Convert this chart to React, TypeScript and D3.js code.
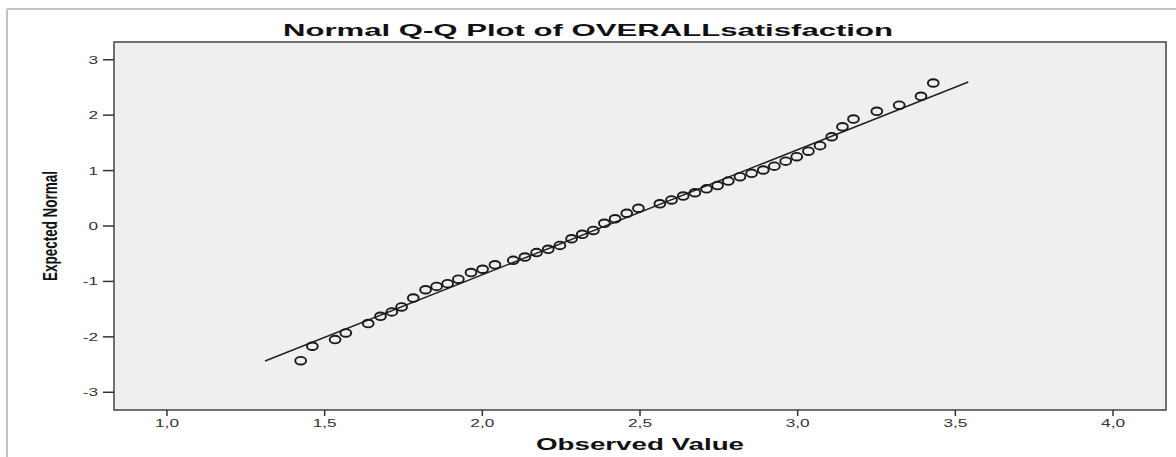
import React from "react";
import * as d3 from "d3";

const observed = [1.424, 1.461, 1.533, 1.567, 1.638, 1.677, 1.713, 1.744, 1.781, 1.82, 1.855, 1.89, 1.924, 1.964, 2.001, 2.04, 2.098, 2.135, 2.172, 2.209, 2.246, 2.283, 2.317, 2.352, 2.387, 2.421, 2.458, 2.495, 2.563, 2.6, 2.637, 2.674, 2.711, 2.746, 2.78, 2.817, 2.854, 2.891, 2.926, 2.962, 2.997, 3.034, 3.071, 3.108, 3.142, 3.177, 3.251, 3.322, 3.391, 3.43];
const expected = [-2.43, -2.17, -2.05, -1.93, -1.76, -1.63, -1.55, -1.46, -1.3, -1.15, -1.09, -1.04, -0.96, -0.84, -0.78, -0.7, -0.62, -0.56, -0.48, -0.42, -0.35, -0.23, -0.15, -0.08, 0.05, 0.13, 0.23, 0.32, 0.4, 0.47, 0.54, 0.6, 0.67, 0.73, 0.81, 0.89, 0.95, 1.01, 1.08, 1.17, 1.25, 1.35, 1.45, 1.61, 1.79, 1.93, 2.07, 2.18, 2.34, 2.58];
const lineObserved = [1.311, 3.541];
const lineMean = 2.39;
const lineSd = 0.443;
const xTicks = [1.0, 1.5, 2.0, 2.5, 3.0, 3.5, 4.0];
const yTicks = [-3, -2, -1, 0, 1, 2, 3];

const W = 1176;
const H = 457;
const left = 114, right = 1166, top = 42, bottom = 410;
const FONT = "'Liberation Sans', Arial, sans-serif";

export default function App() {
  const x = d3.scaleLinear().domain([0.832, 4.168]).range([left, right]);
  const y = d3.scaleLinear().domain([-3.32, 3.32]).range([bottom, top]);
  const fmt = (v: number) => v.toFixed(1).replace(".", ",");
  const line = d3
    .line<number>()
    .x((d) => x(d))
    .y((d) => y((d - lineMean) / lineSd));
  const pts = observed.map((o, i) => ({ o, e: expected[i] }));
  return (
    <svg width={W} height={H} style={{ position: "absolute", left: 0, top: 0, background: "#fff" }}>
      <defs>
        <pattern id="dots" width="8" height="8" patternUnits="userSpaceOnUse">
          <rect width="8" height="8" fill="#efefef" />
          <rect x="3" y="3" width="1" height="1" fill="#fafafa" />
        </pattern>
      </defs>
      <line x1={7} y1={9} x2={W} y2={9} stroke="#c4c4c4" strokeWidth={2} />
      <line x1={7} y1={9} x2={7} y2={H} stroke="#c4c4c4" strokeWidth={2} />
      <text
        x={588}
        y={36}
        textAnchor="middle"
        fontFamily={FONT}
        fontWeight="bold"
        fontSize={17}
        textLength={610}
        lengthAdjust="spacingAndGlyphs"
        fill="#111"
      >
        Normal Q-Q Plot of OVERALLsatisfaction
      </text>
      <rect x={left} y={top} width={right - left} height={bottom - top} fill="url(#dots)" stroke="#444" strokeWidth={1.5} />
      {yTicks.map((t) => (
        <g key={"y" + t}>
          <line x1={left - 11} x2={left} y1={y(t)} y2={y(t)} stroke="#333" strokeWidth={1.5} />
          <text
            transform={`translate(${left - 16},${y(t) + 4}) scale(1.5,1)`}
            textAnchor="end"
            fontFamily={FONT}
            fontSize={11.5}
            fill="#333"
          >
            {String(t)}
          </text>
        </g>
      ))}
      {xTicks.map((t) => (
        <g key={"x" + t}>
          <line x1={x(t)} x2={x(t)} y1={bottom} y2={bottom + 6} stroke="#333" strokeWidth={1.5} />
          <text
            transform={`translate(${x(t)},${bottom + 17}) scale(1.5,1)`}
            textAnchor="middle"
            fontFamily={FONT}
            fontSize={11.5}
            fill="#333"
          >
            {fmt(t)}
          </text>
        </g>
      ))}
      <text
        x={(left + right) / 2}
        y={450}
        textAnchor="middle"
        fontFamily={FONT}
        fontWeight="bold"
        fontSize={17}
        textLength={208}
        lengthAdjust="spacingAndGlyphs"
        fill="#111"
      >
        Observed Value
      </text>
      <text
        transform={`translate(57,${(top + bottom) / 2}) rotate(-90)`}
        textAnchor="middle"
        fontFamily={FONT}
        fontWeight="bold"
        fontSize={21}
        textLength={110}
        lengthAdjust="spacingAndGlyphs"
        fill="#111"
      >
        Expected Normal
      </text>
      <path d={line(lineObserved) || ""} fill="none" stroke="#222" strokeWidth={1.5} />
      {pts.map((p, i) => (
        <ellipse
          key={i}
          cx={x(p.o)}
          cy={y(p.e)}
          rx={5.4}
          ry={3.8}
          fill="none"
          stroke="#1a1a1a"
          strokeWidth={1.9}
        />
      ))}
    </svg>
  );
}
